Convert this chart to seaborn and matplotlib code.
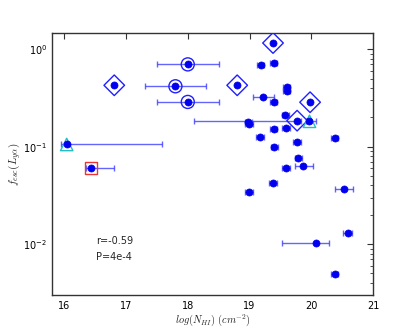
import numpy as np
import pandas as pd
import matplotlib
matplotlib.use("Agg")
import matplotlib.pyplot as plt
import seaborn as sns

# ---- data ----
log_nhi = [16.04, 16.44, 16.81, 17.80, 18.00, 18.00, 18.80, 19.38, 19.18, 19.39,
           19.60, 19.60, 19.22, 19.39, 19.98, 19.58, 19.77, 19.97, 18.98, 18.99,
           19.39, 19.59, 19.17, 20.38, 19.77, 19.40, 19.79, 19.87, 19.59, 19.38,
           18.99, 20.53, 20.59, 20.08, 20.38]
fesc = [0.107, 0.0608, 0.427, 0.417, 0.70, 0.288, 0.427, 1.16, 0.695, 0.728,
        0.407, 0.371, 0.324, 0.286, 0.286, 0.213, 0.185, 0.185, 0.181, 0.171,
        0.153, 0.157, 0.127, 0.123, 0.112, 0.0986, 0.0766, 0.0634, 0.0600, 0.0427,
        0.0340, 0.0368, 0.0130, 0.0103, 0.0049]
xerr_lo = [0.09, 0.09, 0.0, 0.5, 0.5, 0.5, 0.0, 0.0, 0.06, 0.06,
           0.06, 0.06, 0.17, 0.06, 0.0, 0.06, 1.67, 0.06, 0.06, 0.06,
           0.06, 0.06, 0.06, 0.06, 0.06, 0.06, 0.06, 0.13, 0.06, 0.06,
           0.06, 0.15, 0.07, 0.56, 0.06]
xerr_hi = [1.54, 0.37, 0.0, 0.5, 0.5, 0.5, 0.0, 0.0, 0.06, 0.06,
           0.06, 0.06, 0.17, 0.06, 0.0, 0.06, 0.06, 0.10, 0.06, 0.06,
           0.06, 0.06, 0.06, 0.06, 0.06, 0.06, 0.06, 0.15, 0.06, 0.06,
           0.06, 0.15, 0.07, 0.21, 0.06]
# special-marker groups (indices into the arrays above)
circled = [3, 4, 5]
diamonds = [2, 6, 7, 14, 16]
triangles = [0, 17]
squares = [1]

stat_r = "r=-0.59"
stat_p = "P=4e-4"

df = pd.DataFrame({"x": log_nhi, "y": fesc, "lo": xerr_lo, "hi": xerr_hi})

sns.set_style("white")
plt.rcParams.update({
    "font.family": ["DejaVu Sans"],
    "mathtext.fontset": "cm",
    "xtick.direction": "in",
    "ytick.direction": "in",
    "xtick.top": True,
    "ytick.right": True,
    "axes.edgecolor": "#333333",
    "axes.linewidth": 1.0,
})

fig = plt.figure(figsize=(4.15, 3.28), dpi=100)
ax = fig.add_axes([0.125, 0.1006, 0.774, 0.7988])

# error bars
ax.errorbar(df["x"], df["y"], xerr=[df["lo"], df["hi"]], fmt="none",
            ecolor="#3030ff", alpha=0.75, elinewidth=1.0, capsize=2.2, capthick=1.0,
            zorder=2)

# main points
sns.scatterplot(data=df, x="x", y="y", ax=ax, color="#0000ee", s=26,
                edgecolor="#0000ee", linewidth=0.5, legend=False, zorder=4)

# open circles
d = df.iloc[circled]
ax.scatter(d["x"], d["y"], s=88, marker="o", facecolors="none",
           edgecolors="#2020ff", linewidths=1.0, zorder=3)
# diamonds
d = df.iloc[diamonds]
ax.scatter(d["x"], d["y"], s=110, marker="D", facecolors="none",
           edgecolors="#2020ff", linewidths=1.0, zorder=3)
# triangles
d = df.iloc[triangles]
ax.scatter(d["x"], d["y"] * 0.985, s=80, marker="^", facecolors="none",
           edgecolors="#20c0c0", linewidths=1.0, zorder=3)
# squares
d = df.iloc[squares]
ax.scatter(d["x"], d["y"], s=75, marker="s", facecolors="none",
           edgecolors="#ee3333", linewidths=1.0, zorder=3)

ax.set_yscale("log")
ax.set_xlim(15.8, 21.0)
ax.set_ylim(0.003, 1.47)
ax.set_xticks([16, 17, 18, 19, 20, 21])
ax.tick_params(axis="both", which="major", labelsize=7, length=4, width=0.8,
               colors="#333333", labelcolor="black")
ax.tick_params(axis="both", which="minor", length=2, width=0.6, colors="#333333")
ax.tick_params(axis="x", pad=4)

ax.set_xlabel(r"$log(N_{HI})\ (cm^{-2})$", fontsize=7.5, labelpad=1)
ax.set_ylabel(r"$f_{esc}(L_{y\alpha})$", fontsize=8, labelpad=0)

ax.text(16.51, 0.0108, stat_r, fontsize=7, va="center", ha="left")
ax.text(16.51, 0.00743, stat_p, fontsize=7, va="center", ha="left")

fig.savefig("out.png", dpi=100)
